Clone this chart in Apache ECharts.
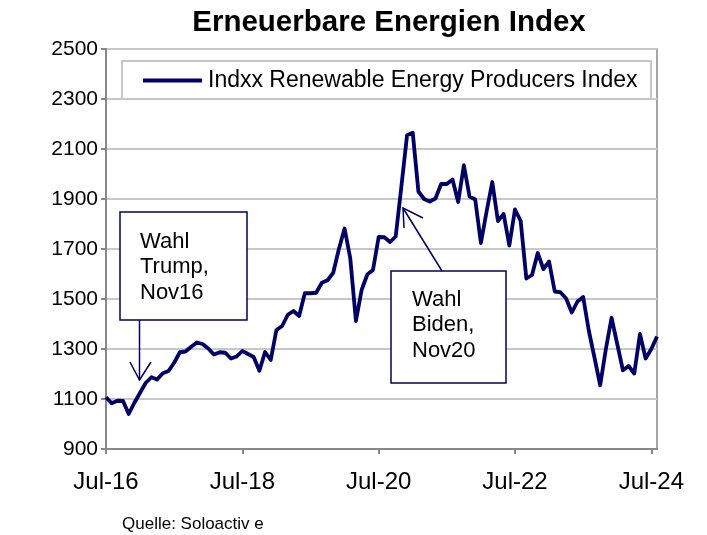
<!DOCTYPE html>
<html>
<head>
<meta charset="utf-8">
<script src="https://cdn.jsdelivr.net/npm/echarts@6/dist/echarts.min.js"></script>
<style>
html,body{margin:0;padding:0;background:#fff;}
#chart{width:707px;height:535px;}
</style>
</head>
<body>
<div id="chart"></div>
<script>
var months = [
 "Jul-16","Aug-16","Sep-16","Oct-16","Nov-16","Dec-16",
 "Jan-17","Feb-17","Mar-17","Apr-17","May-17","Jun-17","Jul-17","Aug-17","Sep-17","Oct-17","Nov-17","Dec-17",
 "Jan-18","Feb-18","Mar-18","Apr-18","May-18","Jun-18","Jul-18","Aug-18","Sep-18","Oct-18","Nov-18","Dec-18",
 "Jan-19","Feb-19","Mar-19","Apr-19","May-19","Jun-19","Jul-19","Aug-19","Sep-19","Oct-19","Nov-19","Dec-19",
 "Jan-20","Feb-20","Mar-20","Apr-20","May-20","Jun-20","Jul-20","Aug-20","Sep-20","Oct-20","Nov-20","Dec-20",
 "Jan-21","Feb-21","Mar-21","Apr-21","May-21","Jun-21","Jul-21","Aug-21","Sep-21","Oct-21","Nov-21","Dec-21",
 "Jan-22","Feb-22","Mar-22","Apr-22","May-22","Jun-22","Jul-22","Aug-22","Sep-22","Oct-22","Nov-22","Dec-22",
 "Jan-23","Feb-23","Mar-23","Apr-23","May-23","Jun-23","Jul-23","Aug-23","Sep-23","Oct-23","Nov-23","Dec-23",
 "Jan-24","Feb-24","Mar-24","Apr-24","May-24","Jun-24","Jul-24","Aug-24"
];
var indexValues = [
 1107,1083,1093,1092,1040,1085,
 1125,1165,1187,1178,1203,1212,1245,1287,1290,1309,1326,1320,
 1302,1278,1287,1285,1262,1270,1292,1280,1268,1213,1288,1256,
 1376,1392,1437,1452,1432,1523,1523,1525,1565,1575,1605,1700,
 1782,1663,1412,1536,1598,1616,1748,1747,1728,1750,1950,2155,
 2165,1930,1900,1890,1902,1960,1960,1978,1888,2035,1910,1898,
 1724,1850,1968,1812,1840,1714,1858,1812,1582,1596,1684,1620,
 1650,1530,1527,1502,1446,1490,1508,1373,1265,1155,1300,1425,
 1320,1215,1232,1202,1360,1262,1300,1350
];
var tickLabels = ["Jul-16","Jul-18","Jul-20","Jul-22","Jul-24"];
var seriesName = "Indxx Renewable Energy Producers Index";
var titleText = "Erneuerbare Energien Index";
var sourceText = "Quelle: Soloactiv e";
var note1 = "Wahl\nTrump,\nNov16";
var note2 = "Wahl\nBiden,\nNov20";

var FONT = "Liberation Sans, Arial, sans-serif";
var NAVY = "#000066";
var chart = echarts.init(document.getElementById('chart'), null, {renderer:'canvas'});
function isTick(i, v){ return tickLabels.indexOf(v) >= 0; }
chart.setOption({
  animation:false,
  backgroundColor:'#fff',
  title:{
    text:titleText, left:384, top:3, textAlign:'center',
    textStyle:{fontFamily:FONT, fontWeight:'bold', fontSize:29.5, color:'#000'}
  },
  grid:{left:106, right:50, top:49, bottom:86, show:true, borderColor:'#888', borderWidth:1.5},
  legend:{
    data:[seriesName], left:143, top:69, padding:0, itemGap:0,
    icon:'rect', itemWidth:59, itemHeight:4,
    textStyle:{fontFamily:FONT, fontSize:23, color:'#000', padding:[0,0,0,1]}
  },
  xAxis:{
    type:'category', data:months, boundaryGap:false,
    axisLine:{lineStyle:{color:'#888', width:2}},
    axisTick:{show:true, interval:isTick, length:5, lineStyle:{color:'#888', width:2}},
    axisLabel:{interval:isTick, fontFamily:FONT, fontSize:24, color:'#000', margin:21},
    splitLine:{show:false}
  },
  yAxis:{
    type:'value', min:900, max:2500, interval:200,
    axisLine:{show:true, lineStyle:{color:'#888', width:2}},
    axisTick:{show:true, length:5, lineStyle:{color:'#888', width:2}},
    axisLabel:{fontFamily:FONT, fontSize:21, color:'#000', margin:8,
      formatter:function(v){ return String(v); }},
    splitLine:{lineStyle:{color:'#c8c8c8', width:2}}
  },
  series:[{
    name:seriesName, type:'line', data:indexValues,
    symbol:'none', showSymbol:false,
    lineStyle:{color:NAVY, width:3.8, join:'round'},
    itemStyle:{color:NAVY}
  }],
  graphic:[
    {type:'rect', shape:{x:122, y:61, width:529, height:38}, style:{fill:null, stroke:'#c8c8c8', lineWidth:2}, z:1},
    {type:'rect', shape:{x:120, y:212, width:127, height:108}, style:{fill:'#fff', stroke:NAVY, lineWidth:1.5}, z:10},
    {type:'text', left:140, top:229, style:{text:note1, font:'22px ' + FONT, fill:'#000', lineHeight:25.5}, z:11},
    {type:'polyline', shape:{points:[[139.5,320],[139.5,380]]}, style:{stroke:NAVY, lineWidth:1.5, fill:null}, z:10},
    {type:'polyline', shape:{points:[[130,362],[139.5,380],[151,362]]}, style:{stroke:NAVY, lineWidth:1.5, fill:null}, z:10},
    {type:'rect', shape:{x:391, y:271, width:115, height:112}, style:{fill:'#fff', stroke:NAVY, lineWidth:1.5}, z:10},
    {type:'text', left:412, top:287, style:{text:note2, font:'22px ' + FONT, fill:'#000', lineHeight:25.5}, z:11},
    {type:'polyline', shape:{points:[[442,271],[403,208]]}, style:{stroke:NAVY, lineWidth:1.5, fill:null}, z:10},
    {type:'polyline', shape:{points:[[404,228],[403,208],[423,218]]}, style:{stroke:NAVY, lineWidth:1.5, fill:null}, z:10},
    {type:'text', left:122, top:516, style:{text:sourceText, font:'17px ' + FONT, fill:'#000'}, z:11}
  ]
});
</script>
</body>
</html>
